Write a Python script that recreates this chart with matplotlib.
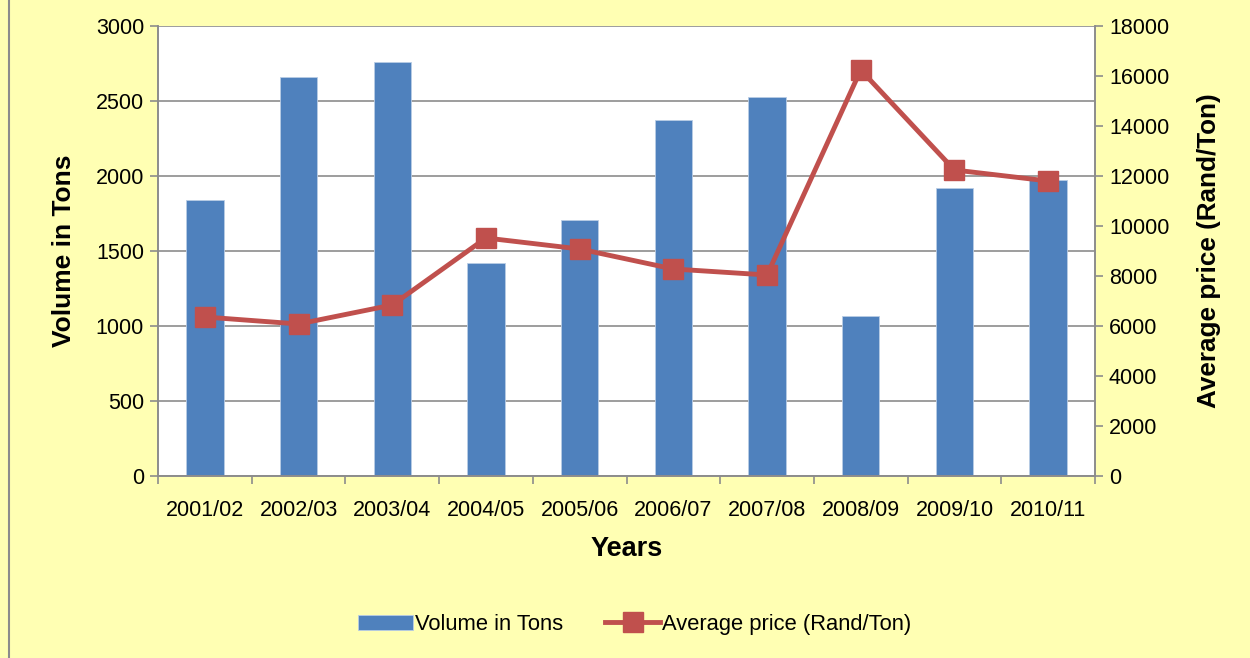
import matplotlib.pyplot as plt
import matplotlib.lines as mlines
import numpy as np

plt.rcParams['font.family'] = ['Liberation Sans', 'DejaVu Sans']

years = ['2001/02', '2002/03', '2003/04', '2004/05', '2005/06',
         '2006/07', '2007/08', '2008/09', '2009/10', '2010/11']
volume = [1840, 2660, 2760, 1420, 1705, 2370, 2525, 1065, 1920, 1975]
price = [6360, 6080, 6840, 9520, 9080, 8280, 8040, 16240, 12240, 11800]

barColor = '#4F81BD'
lineColor = '#C0504D'
bgColor = '#FFFFB3'
gridColor = '#8C8C8C'

def plot():
   fig = plt.figure(figsize=(12.5, 6.58), dpi=100, facecolor=bgColor)
   ax = fig.add_axes([0.1264, 0.2766, 0.7496, 0.6839])
   ax2 = ax.twinx()

   x = np.arange(len(years))
   ax.bar(x, volume, width=0.4, color=barColor, edgecolor='#B9CDE5',
      linewidth=0.6, label='Volume in Tons', zorder=2)
   ax2.plot(x, price, color=lineColor, linewidth=3.5, marker='s',
      markersize=14, label='Average price (Rand/Ton)', zorder=3)

   ax.set_xlim(-0.5, len(years) - 0.5)
   ax.set_ylim(0, 3000)
   ax.set_yticks(range(0, 3001, 500))
   ax2.set_ylim(0, 18000)
   ax2.set_yticks(range(0, 18001, 2000))

   ax.set_xticks(x)
   ax.set_xticklabels(years)
   ax.set_xticks(np.arange(-0.5, len(years)), minor=True)
   ax.tick_params(axis='x', which='major', length=0, pad=17, labelsize=15.5)
   ax.tick_params(axis='x', which='minor', length=6, color=gridColor, width=1.2)
   ax.tick_params(axis='y', length=6, color=gridColor, width=1.2, labelsize=15.5, pad=4)
   ax2.tick_params(axis='y', length=6, color=gridColor, width=1.2, labelsize=15.5, pad=4)

   ax.grid(True, axis='y', color=gridColor, linewidth=1.2, zorder=0)
   ax.set_axisbelow(True)
   for a in (ax, ax2):
      a.spines['top'].set_visible(False)
      for s in ('left', 'right', 'bottom'):
         a.spines[s].set_color(gridColor)
         a.spines[s].set_linewidth(1.2)

   ax.set_xlabel('Years', fontsize=19.5, fontweight='bold', labelpad=11)
   ax.set_ylabel('Volume in Tons', fontsize=19, fontweight='bold', labelpad=14)
   ax2.set_ylabel('Average price (Rand/Ton)', fontsize=18.8, fontweight='bold', labelpad=20)

   h1, l1 = ax.get_legend_handles_labels()
   h2, l2 = ax2.get_legend_handles_labels()
   fig.legend(h1 + h2, l1 + l2, loc='center', bbox_to_anchor=(0.508, 0.051),
      ncol=2, frameon=False, fontsize=15.8, handlelength=2.5, handletextpad=0.1,
      columnspacing=1.9)

   fig.add_artist(mlines.Line2D([0.0068, 0.0068], [0, 1], color='#8C8C8C',
      linewidth=1.5, transform=fig.transFigure))

   fig.savefig('out.png', dpi=100, facecolor=bgColor)

plot()
